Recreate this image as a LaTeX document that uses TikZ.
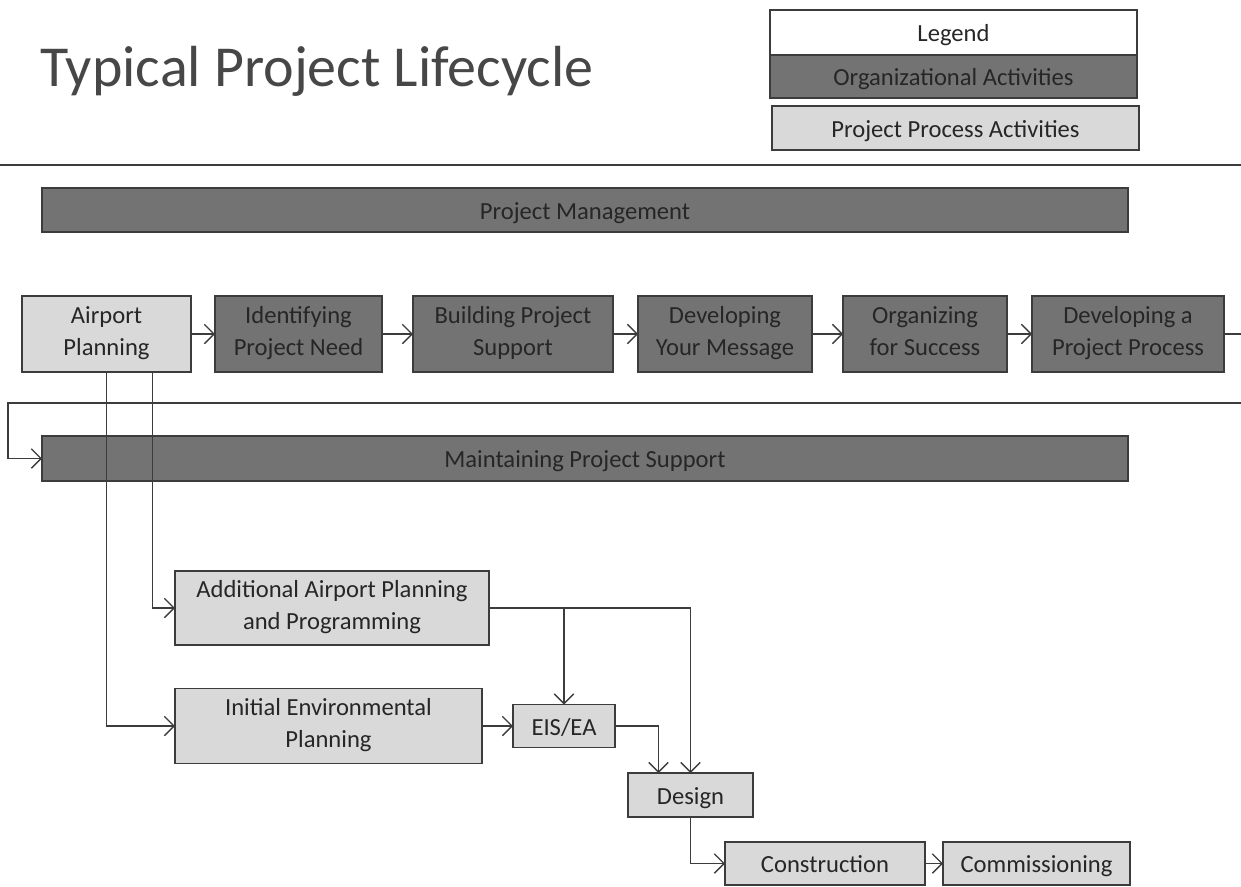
\documentclass[tikz,border=0pt]{standalone}
\usepackage{fontspec}
\setmainfont{Carlito}
\usetikzlibrary{calc, arrows.meta}

% Define colors
\definecolor{orgcolor}{RGB}{115,115,115}
\definecolor{proccolor}{RGB}{217,217,217}
\definecolor{edgecolor}{RGB}{60,60,60}
\definecolor{textcolor}{RGB}{38,38,38}

\newcommand{\boxstrut}{\rule[-0.25em]{0pt}{1.25em}}

\tikzset{
  actbox/.style={draw=edgecolor, line width=0.8pt, text=textcolor, align=center,
    inner sep=0pt, outer sep=0pt, font=\fontsize{14}{18}\selectfont,
    execute at begin node=\boxstrut, execute at end node=\boxstrut},
  orgbox/.style={actbox, fill=orgcolor},
  procbox/.style={actbox, fill=proccolor},
  legendbox/.style={actbox, fill=white},
  flow/.style={draw=edgecolor, line width=0.8pt, -{Straight Barb[length=5.5pt, width=11pt]}},
  plain/.style={draw=edgecolor, line width=0.8pt},
}

\begin{document}
\begin{tikzpicture}[x=0.02cm, y=-0.02cm]

% Define the grid unit (one pixel of the page)
\def\u{0.02}
\def\rowy{334}
\def\rowh{76}

\fill[white] (0,0) rectangle (1241,886);
\useasboundingbox (0,0) rectangle (1241,886);

% Title and legend
\node[anchor=base west, inner sep=0pt, text=textcolor!85, font=\fontsize{33}{36}\selectfont] (title) at (40,86) {Typical Project Lifecycle};

\node[legendbox, minimum width=367*\u cm, minimum height=45*\u cm] (legend) at (953.5,32.5) {Legend};
\node[orgbox, minimum width=367*\u cm, minimum height=43*\u cm] (orgact) at (953.5,76.5) {Organizational Activities};
\node[procbox, minimum width=367*\u cm, minimum height=44*\u cm] (procact) at (955.5,128) {Project Process Activities};

\draw[draw=edgecolor, line width=1.2pt] (0,165) -- (1241,165);

% Organizational bars
\node[orgbox, minimum width=1086*\u cm, minimum height=44*\u cm] (pm) at (585,210) {Project Management};
\node[orgbox, minimum width=1086*\u cm, minimum height=45*\u cm] (maintain) at (585,458.5) {Maintaining Project Support};

% Main row
\node[procbox, minimum width=169*\u cm, minimum height=\rowh*\u cm] (airport) at (106.5,\rowy) {Airport\\Planning};
\node[orgbox, minimum width=167*\u cm, minimum height=\rowh*\u cm] (ident) at (298.5,\rowy) {Identifying\\Project Need};
\node[orgbox, minimum width=200*\u cm, minimum height=\rowh*\u cm] (build) at (513,\rowy) {Building Project\\Support};
\node[orgbox, minimum width=174*\u cm, minimum height=\rowh*\u cm] (message) at (725,\rowy) {Developing\\Your Message};
\node[orgbox, minimum width=164*\u cm, minimum height=\rowh*\u cm] (organize) at (925,\rowy) {Organizing\\for Success};
\node[orgbox, minimum width=192*\u cm, minimum height=\rowh*\u cm] (process) at (1128,\rowy) {Developing a\\Project Process};

% Project process boxes
\node[procbox, minimum width=314*\u cm, minimum height=74*\u cm] (additional) at (332,608) {Additional Airport Planning\\and Programming};
\node[procbox, minimum width=307*\u cm, minimum height=75*\u cm] (initial) at (328.5,726) {Initial Environmental\\Planning};
\node[procbox, minimum width=102*\u cm, minimum height=43*\u cm] (eis) at (564,726) {EIS/EA};
\node[procbox, minimum width=125*\u cm, minimum height=44*\u cm] (design) at (690.5,795) {Design};
\node[procbox, minimum width=200*\u cm, minimum height=43*\u cm] (construct) at (825,863.5) {Construction};
\node[procbox, minimum width=187*\u cm, minimum height=43*\u cm] (commission) at (1036.5,863.5) {Commissioning};

% Free ends at the right edge
\coordinate (edgeA) at (1241,\rowy);
\coordinate (edgeB) at (1241,403);
\coordinate (turn) at (8,403);

% Connectors of the main row
\draw[flow] (airport) -- (ident);
\draw[flow] (ident) -- (build);
\draw[flow] (build) -- (message);
\draw[flow] (message) -- (organize);
\draw[flow] (organize) -- (process);
\draw[plain] (process) -- (edgeA);
\draw[flow] (edgeB) -- (turn) |- (maintain.west);

% Connectors of the project process
\draw[flow] (airport.south) |- (initial.west);
\draw[flow] ($(airport.south)+(46,0)$) |- (additional.west);
\draw[flow] (additional.east) -| (eis.north);
\draw[flow] (additional.east) -| (design.north);
\draw[flow] (initial) -- (eis);
\draw[flow] (eis.east) -| ($(design.north)+(-32,0)$);
\draw[flow] (design.south) |- (construct.west);
\draw[flow] (construct) -- (commission);

\end{tikzpicture}
\end{document}
